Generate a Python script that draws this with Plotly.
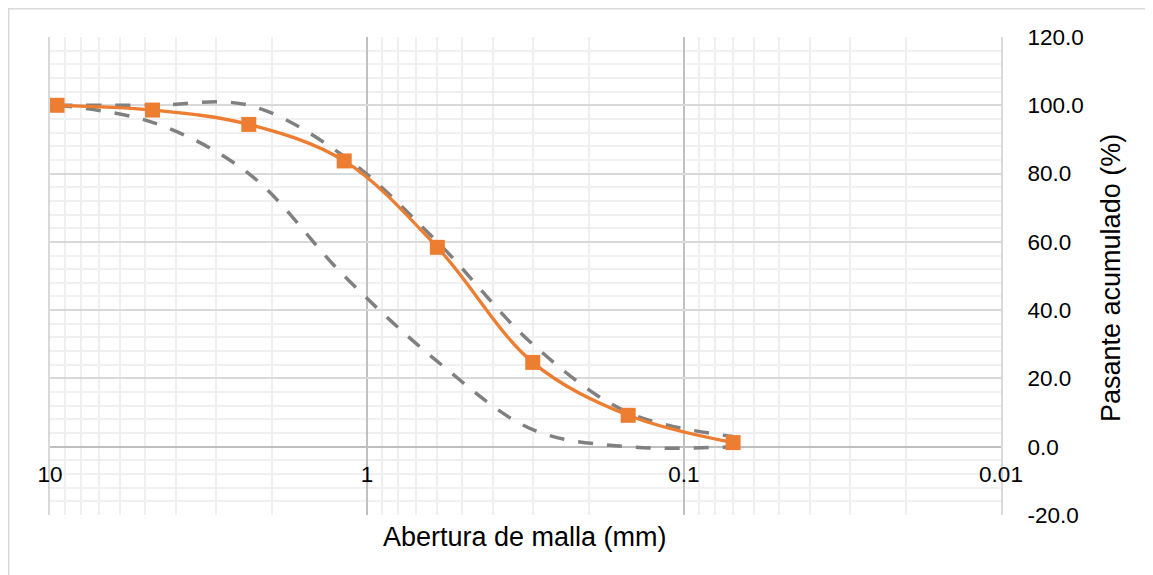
import plotly.graph_objects as go

# ---- data ----
sieve_mm = [9.5, 4.75, 2.36, 1.18, 0.6, 0.3, 0.15, 0.07]
passing = [100.0, 98.6, 94.4, 83.7, 58.4, 24.7, 9.2, 1.2]
upper_limit = [100, 100, 100, 85, 60, 30, 10, 3]
lower_limit = [100, 95, 80, 50, 25, 5, 0, 0]

x_tickvals = [10, 1, 0.1, 0.01]
x_ticktext = ["10", "1", "0.1", "0.01"]
y_tickvals = [-20, 0, 20, 40, 60, 80, 100, 120]
y_ticktext = ["-20.0", "0.0", "20.0", "40.0", "60.0", "80.0", "100.0", "120.0"]

x_title = "Abertura de malla (mm)"
y_title = "Pasante acumulado (%)"

minor_x = [k * 10.0 ** e for e in (0, -1, -2) for k in range(2, 10)]

FONT = "Liberation Sans, Arial, sans-serif"
ORANGE = "#ED7D31"
GRAY = "#808080"

# figure sits inside the page's default 8px body margin
W, H = 1145, 567
L, R, T, B = 42, 152, 29, 60
PW, PH = W - L - R, H - T - B


def px_x(p):  # figure pixel -> paper x
    return (p - L) / PW


def px_y(p):  # figure pixel -> paper y
    return (H - B - p) / PH


fig = go.Figure()

for lim in (upper_limit, lower_limit):
    fig.add_trace(go.Scatter(
        x=sieve_mm, y=lim, mode="lines",
        line=dict(color=GRAY, width=3.5, dash="15px,14px", shape="spline", smoothing=1.0),
        hoverinfo="skip", showlegend=False,
    ))

fig.add_trace(go.Scatter(
    x=sieve_mm, y=passing, mode="lines+markers",
    line=dict(color=ORANGE, width=3.3, shape="spline", smoothing=1.0),
    marker=dict(symbol="square", size=15, color=ORANGE),
    showlegend=False,
))

fig.update_layout(
    width=W, height=H,
    margin=dict(l=L, r=R, t=T, b=B, autoexpand=False),
    paper_bgcolor="white", plot_bgcolor="white",
    font=dict(family=FONT, color="#000000"),
    xaxis=dict(
        type="log", range=[1, -2],
        tickvals=x_tickvals, ticktext=x_ticktext,
        tickfont=dict(size=22.5, family=FONT, color="#000000"),
        ticks="outside", ticklen=7, tickcolor="rgba(0,0,0,0)",
        showgrid=True, gridcolor="#c0c0c0", gridwidth=1.5,
        minor=dict(tickvals=minor_x, showgrid=True, gridcolor="#efefef", gridwidth=1.5, ticks=""),
        showline=False, zeroline=False,
        anchor="free", position=(0 - (-20)) / 140.0,
    ),
    yaxis=dict(
        range=[-20, 120], tickvals=y_tickvals, ticktext=y_ticktext,
        side="right",
        tickfont=dict(size=22.5, family=FONT, color="#000000"),
        ticks="outside", ticklen=20, tickcolor="rgba(0,0,0,0)",
        showgrid=True, gridcolor="#d9d9d9", gridwidth=2,
        minor=dict(dtick=4, showgrid=True, gridcolor="#f0f0f0", gridwidth=1.5, ticks=""),
        zeroline=True, zerolinecolor="#bfbfbf", zerolinewidth=2,
        showline=True, mirror=True, linecolor="#d9d9d9", linewidth=2,
        layer="below traces",
    ),
    shapes=[
        dict(type="rect", xref="paper", yref="paper",
             x0=px_x(0.75), x1=px_x(W + 20), y0=px_y(H + 20), y1=px_y(0.75),
             line=dict(color="#d9d9d9", width=1.5), layer="below"),
    ],
    annotations=[
        dict(text=x_title, xref="paper", yref="paper",
             x=px_x(516.5), y=px_y(529),
             xanchor="center", yanchor="middle", showarrow=False,
             font=dict(size=27, family=FONT, color="#000000")),
        dict(text=y_title, xref="paper", yref="paper",
             x=px_x(1103), y=px_y(270),
             xanchor="center", yanchor="middle", showarrow=False, textangle=-90,
             font=dict(size=27, family=FONT, color="#000000")),
    ],
)

fig.write_html("out.html")
